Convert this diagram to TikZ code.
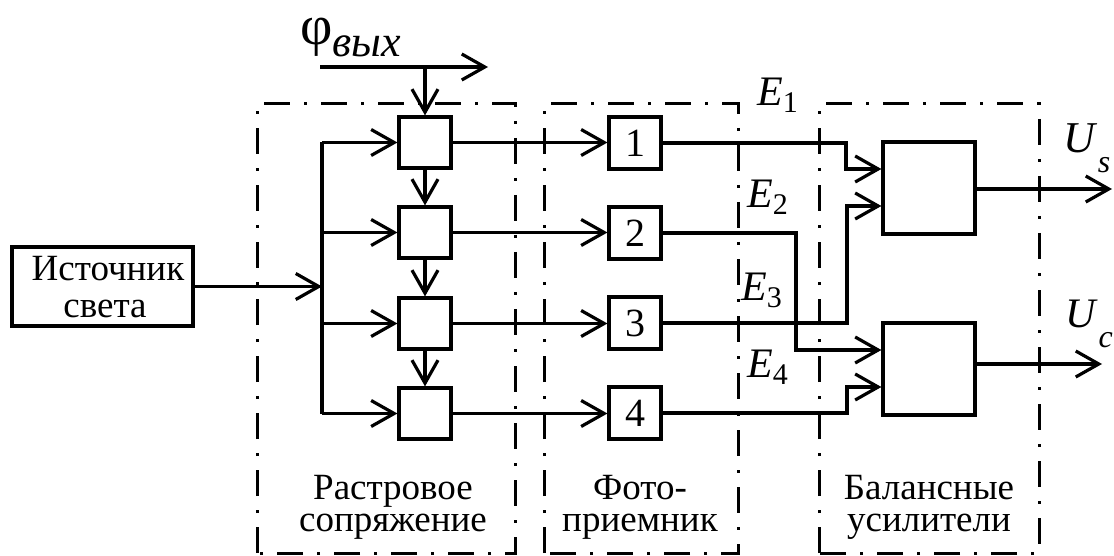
\documentclass[tikz,border=0pt]{standalone}
\usepackage{fontspec}
\setmainfont{Liberation Serif}
\usetikzlibrary{arrows.meta}
\tikzset{
  ln/.style={line width=3.2pt},
  arr/.style={ln,-{Straight Barb[length=23pt,width=26pt,line width=3.2pt]}},
  blk/.style={draw,ln,inner sep=0pt,minimum width=52pt,minimum height=51pt},
  bal/.style={draw,ln,inner sep=0pt,minimum width=92pt,minimum height=92pt},
  grp/.style={line width=3pt,dash pattern=on 26pt off 14pt on 3pt off 14pt},
  captxt/.style={inner sep=0pt,align=center,anchor=base,font=\fontsize{37pt}{32pt}\selectfont},
  numtxt/.style={font=\fontsize{40pt}{40pt}\selectfont},
  lab/.style={inner sep=0pt,anchor=base west}
}
\begin{document}
\begin{tikzpicture}[x=1pt,y=-1pt]
\useasboundingbox (0,0) rectangle (1114,556);
% group frames
\draw[grp] (257,553) -- (257,104) -- (515,104) -- (515,553) -- cycle;
\draw[grp] (544,553) -- (544,104) -- (738,104) -- (738,553) -- cycle;
\draw[grp] (819,553) -- (819,104) -- (1039,104) -- (1039,553) -- cycle;
% source
\node[draw,ln,inner sep=0pt,minimum width=181pt,minimum height=79pt] (src) at (102.5,286.5) {};
\node[captxt,font=\fontsize{37pt}{37pt}\selectfont] (srcT) at (105,317) {\hspace*{6pt}Источник\\света};
% small boxes
\node[blk] (s1) at (425,142.5) {};
\node[blk] (s2) at (425,232.5) {};
\node[blk] (s3) at (425,323.5) {};
\node[blk] (s4) at (425,413.5) {};
% numbered boxes
\node[blk,minimum height=52pt,numtxt] (n1) at (635,143) {1};
\node[blk,minimum height=52pt,numtxt] (n2) at (635,233) {2};
\node[blk,minimum height=52pt,numtxt] (n3) at (635,323) {3};
\node[blk,minimum height=52pt,numtxt] (n4) at (635,413) {4};
% balance amplifiers
\node[bal] (b1) at (929,188) {};
\node[bal] (b2) at (929,369) {};
% phi input
\coordinate (phiL) at (320,67);
\coordinate (phiR) at (488,67);
\node[lab] (phi) at (300,45) {{\fontsize{56pt}{56pt}\selectfont φ}\raisebox{-12pt}{\fontsize{44pt}{44pt}\selectfont\itshape вых}};
\draw[arr] (phiL) -- (phiR);
\draw[arr] (s1.north |- phiL) -- (s1.north);
% chain
\draw[arr] (s1.south) -- (s2.north);
\draw[arr] (s2.south) -- (s3.north);
\draw[arr] (s3.south) -- (s4.north);
% bus
\coordinate (busT) at (322,142.5);
\coordinate (busB) at (322,413.5);
\draw[ln] (busT) -- (busB);
\draw[arr] (src.east) -- (busT |- src.east);
\draw[arr] (busT) -- (s1.west);
\draw[arr] (busT |- s2.west) -- (s2.west);
\draw[arr] (busT |- s3.west) -- (s3.west);
\draw[arr] (busB) -- (s4.west);
% rows
\draw[arr] (s1.east) -- (n1.west |- s1.east);
\draw[arr] (s2.east) -- (n2.west |- s2.east);
\draw[arr] (s3.east) -- (n3.west |- s3.east);
\draw[arr] (s4.east) -- (n4.west |- s4.east);
% to amplifiers
\draw[arr] (n1.east) -| (846,169) -- (b1.west |- 0,169);
\draw[arr] (n2.east) -| (796,350) -- (b2.west |- 0,350);
\draw[arr] (n3.east) -| (847,206) -- (b1.west |- 0,206);
\draw[arr] (n4.east) -| (847,387) -- (b2.west |- 0,387);
% outputs
\coordinate (us) at (1112,189);
\coordinate (uc) at (1102,364);
\draw[arr] (b1.east |- us) -- (us);
\draw[arr] (b2.east |- uc) -- (uc);
\node[lab] (Us) at (1063,153) {\fontsize{44pt}{44pt}\selectfont\itshape U\kern3pt\raisebox{-20pt}{\fontsize{32pt}{32pt}\selectfont s}};
\node[lab] (Uc) at (1065,327) {\fontsize{42pt}{42pt}\selectfont\itshape U\kern3pt\raisebox{-20pt}{\fontsize{32pt}{32pt}\selectfont c}};
% E labels
\node[lab] (E1) at (757,106) {\fontsize{42pt}{42pt}\selectfont\textit{E}\raisebox{-7pt}{\fontsize{30pt}{30pt}\selectfont 1}};
\node[lab] (E2) at (747,208) {\fontsize{42pt}{42pt}\selectfont\textit{E}\raisebox{-7pt}{\fontsize{30pt}{30pt}\selectfont 2}};
\node[lab] (E3) at (741,300) {\fontsize{42pt}{42pt}\selectfont\textit{E}\raisebox{-7pt}{\fontsize{30pt}{30pt}\selectfont 3}};
\node[lab] (E4) at (747,377) {\fontsize{42pt}{42pt}\selectfont\textit{E}\raisebox{-7pt}{\fontsize{30pt}{30pt}\selectfont 4}};
% group captions (anchor=base: baseline of the last line)
\node[captxt] (g1) at (393,531) {Растровое\\сопряжение};
\node[captxt] (g2) at (640,531) {Фото-\\приемник};
\node[captxt] (g3) at (929,531) {Балансные\\усилители};
\end{tikzpicture}
\end{document}
